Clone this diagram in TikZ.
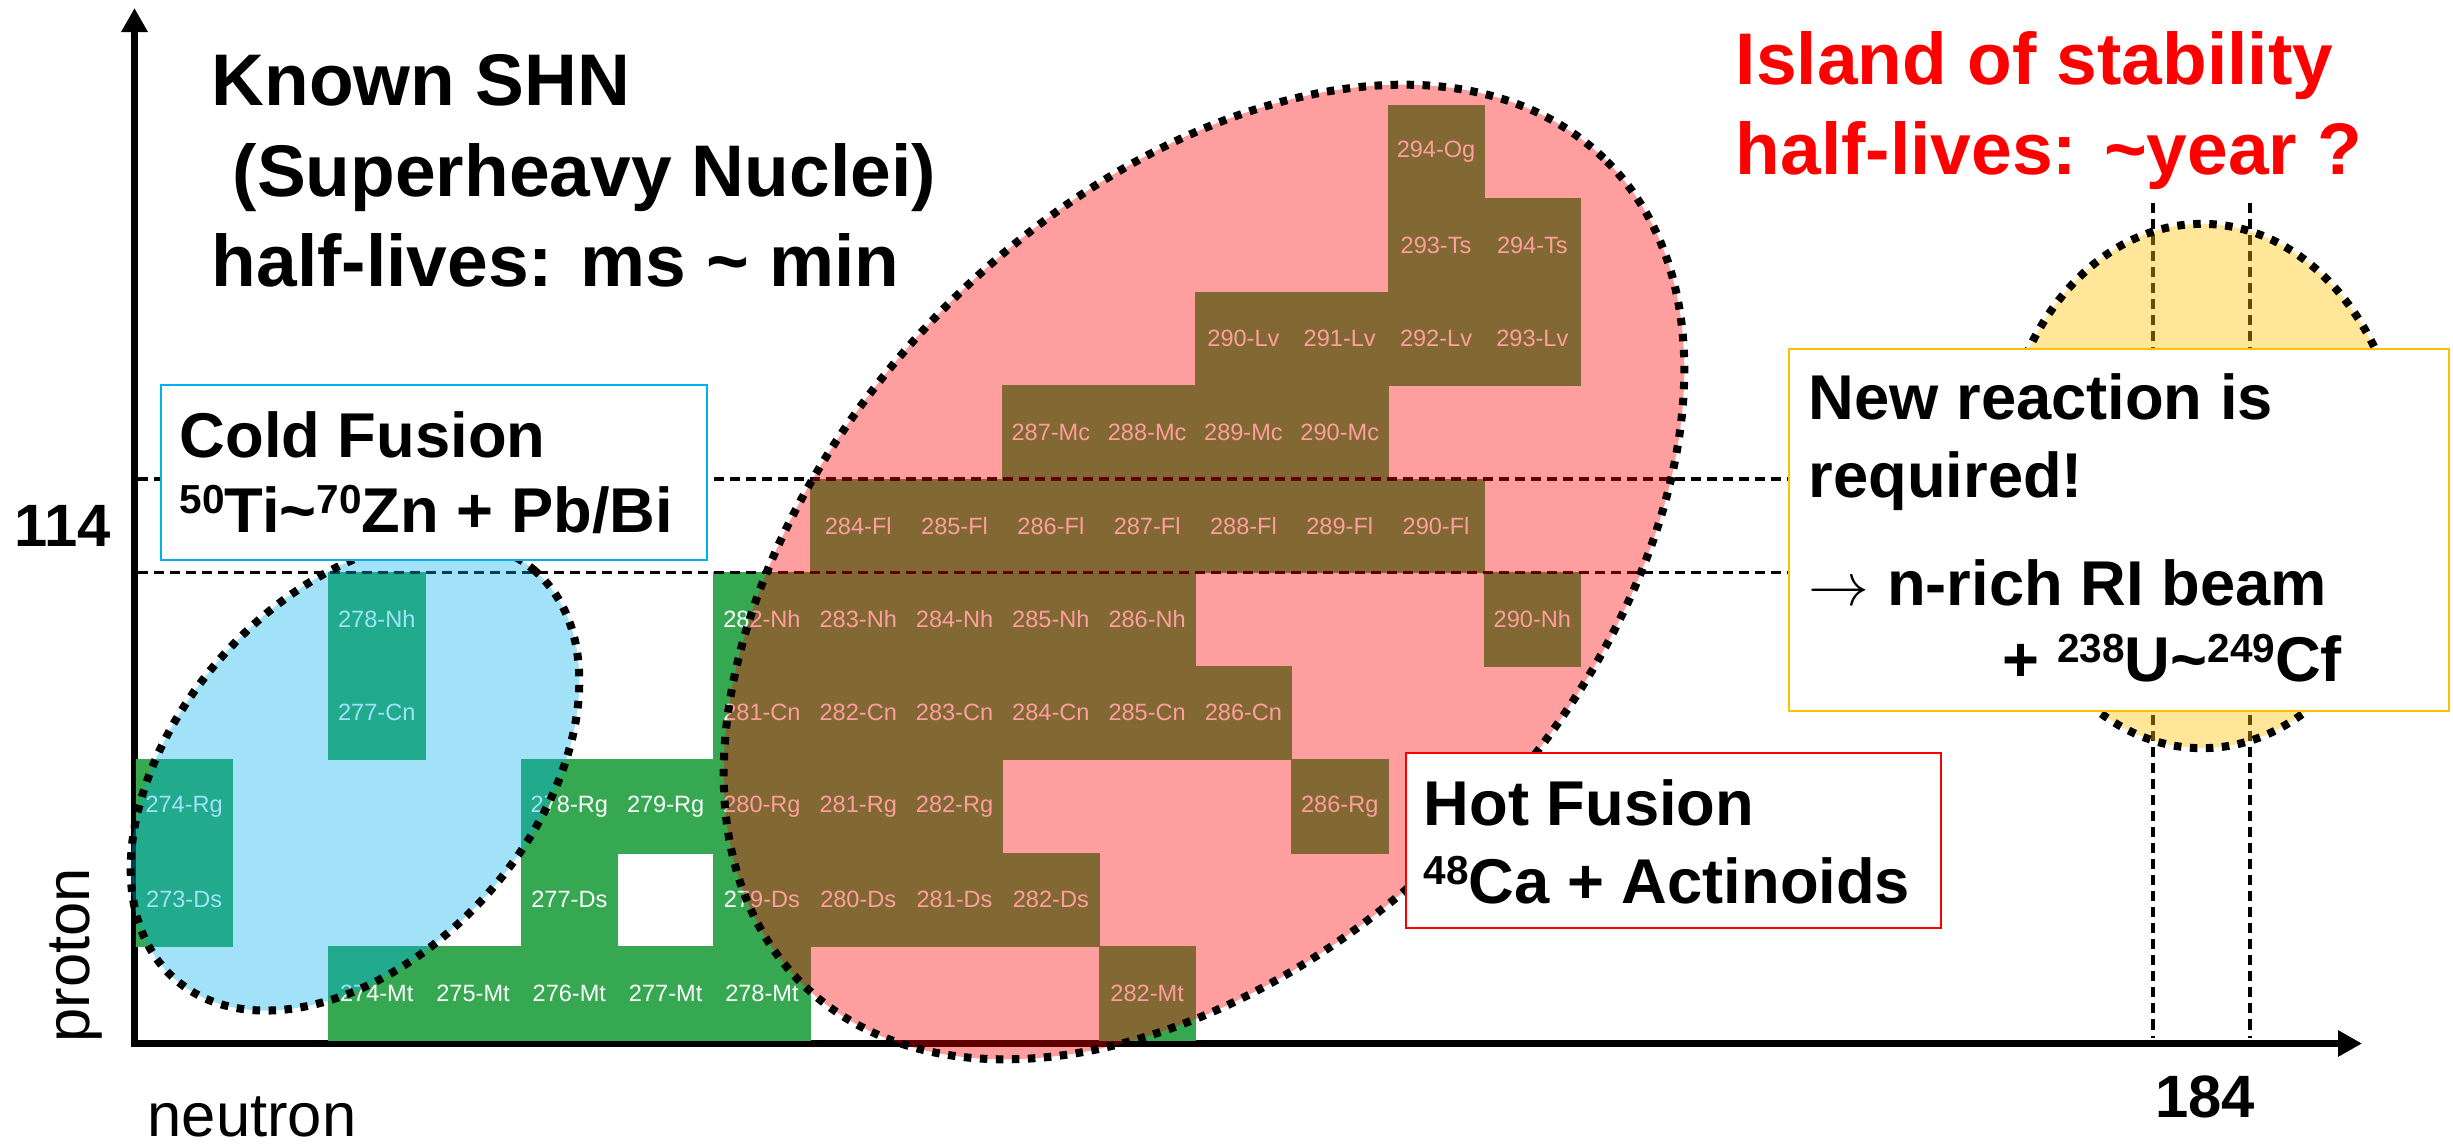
\documentclass[tikz,border=0pt]{standalone}
\usepackage{fontspec}
\setmainfont{Liberation Sans}
\usepackage{graphicx}
\usetikzlibrary{arrows.meta}
\definecolor{cellgreen}{RGB}{54,168,82}
\definecolor{ovblue}{RGB}{0,176,240}
\definecolor{ovyellow}{RGB}{255,192,0}
\newcommand\supnum[1]{\raisebox{0.3em}{\scalebox{0.64}{#1}}}
\begin{document}
\begin{tikzpicture}[x=0.01cm,y=-0.01cm,
  cell/.style={fill=cellgreen, draw=cellgreen, line width=0.006cm, inner sep=0pt,
    minimum width=0.963cm, minimum height=0.935cm, text=white,
    font=\fontsize{6.7}{7}\selectfont},
  axisline/.style={line width=0.07cm, -{Triangle[length=0.24cm,width=0.25cm]}},
  guide/.style={line width=0.035cm, dash pattern=on 0.1cm off 0.06cm},
  dotbound/.style={line width=0.08cm, dash pattern=on 0.075cm off 0.085cm},
  bigtext/.style={font=\bfseries\fontsize{20.8}{25}\selectfont, inner sep=0pt, anchor=base west},
  boxtext/.style={font=\bfseries\fontsize{18}{22}\selectfont, inner sep=0pt, anchor=base west},
  numtext/.style={font=\bfseries\fontsize{17}{20}\selectfont, inner sep=0pt, anchor=base},
  axistext/.style={font=\fontsize{17.5}{20}\selectfont, inner sep=0pt, anchor=base},
  infobox/.style={fill=white, line width=0.025cm, inner sep=0pt}
]
\useasboundingbox (0,0) rectangle (2453,1145);

% axes
\coordinate (ystart) at (134.5,1047);
\coordinate (ytip) at (134.5,8);
\coordinate (xstart) at (131,1043.5);
\coordinate (xtip) at (2362,1043.5);
\draw[axisline] (ystart) -- (ytip);
\draw[axisline] (xstart) -- (xtip);

% nuclide cells
\foreach \c/\r/\t in {
  2/0/274-Mt, 3/0/275-Mt, 4/0/276-Mt, 5/0/277-Mt, 6/0/278-Mt, 10/0/282-Mt,
  0/1/273-Ds, 4/1/277-Ds, 6/1/279-Ds, 7/1/280-Ds, 8/1/281-Ds, 9/1/282-Ds,
  0/2/274-Rg, 4/2/278-Rg, 5/2/279-Rg, 6/2/280-Rg, 7/2/281-Rg, 8/2/282-Rg, 12/2/286-Rg,
  2/3/277-Cn, 6/3/281-Cn, 7/3/282-Cn, 8/3/283-Cn, 9/3/284-Cn, 10/3/285-Cn, 11/3/286-Cn,
  2/4/278-Nh, 6/4/282-Nh, 7/4/283-Nh, 8/4/284-Nh, 9/4/285-Nh, 10/4/286-Nh, 14/4/290-Nh,
  7/5/284-Fl, 8/5/285-Fl, 9/5/286-Fl, 10/5/287-Fl, 11/5/288-Fl, 12/5/289-Fl, 13/5/290-Fl,
  9/6/287-Mc, 10/6/288-Mc, 11/6/289-Mc, 12/6/290-Mc,
  11/7/290-Lv, 12/7/291-Lv, 13/7/292-Lv, 14/7/293-Lv,
  13/8/293-Ts, 14/8/294-Ts,
  13/9/294-Og}
  \node[cell] (cell-\c-\r) at ({136+96.3*(\c+0.5)},{1040-93.5*(\r+0.5)}) {\t};

% guide lines
\coordinate (g1a) at (138,479);
\coordinate (g1b) at (1800,479);
\coordinate (g2a) at (138,572.5);
\coordinate (g2b) at (1800,572.5);
\coordinate (v1a) at (2153,203);
\coordinate (v1b) at (2153,1038);
\coordinate (v2a) at (2250,203);
\coordinate (v2b) at (2250,1038);
\draw[guide] (g1a) -- (g1b);
\draw[guide] (g2a) -- (g2b);
\draw[guide] (v1a) -- (v1b);
\draw[guide] (v2a) -- (v2b);

% translucent regions
\fill[ovblue, fill opacity=0.37, rotate around={48.5:(355,775)}] (355,775) ellipse [x radius=2.72cm, y radius=1.78cm];
\fill[red, fill opacity=0.38, rotate around={46:(1204,572)}] (1204,572) ellipse [x radius=5.75cm, y radius=3.7cm];
\fill[ovyellow, fill opacity=0.4] (2202,486) ellipse [x radius=2.03cm, y radius=2.62cm];
\draw[dotbound, rotate around={48.5:(355,775)}] (355,775) ellipse [x radius=2.72cm, y radius=1.78cm];
\draw[dotbound, rotate around={46:(1204,572)}] (1204,572) ellipse [x radius=5.75cm, y radius=3.7cm];
\draw[dotbound] (2202,486) ellipse [x radius=2.03cm, y radius=2.62cm];

% boxes
\node[infobox, draw=ovblue, minimum width=5.46cm, minimum height=1.75cm] (coldbox) at (434,472.5) {};
\node[infobox, draw=red, minimum width=5.35cm, minimum height=1.75cm] (hotbox) at (1673.5,840.5) {};
\node[infobox, draw=ovyellow, minimum width=6.6cm, minimum height=3.62cm] (newbox) at (2119,530) {};

% titles
\node[bigtext] (known1) at (211,105) {Known SHN};
\node[bigtext] (known2) at (232,196) {(Superheavy Nuclei)};
\node[bigtext] (known3) at (211,286) {half-lives: ms \textasciitilde{} min};
\node[bigtext, text=red] (island1) at (1735,84) {Island of stability};
\node[bigtext, text=red] (island2) at (1735,174) {half-lives: \textasciitilde year ?};

% box texts
\node[boxtext] (cold1) at (179,457) {Cold Fusion};
\node[boxtext] (cold2) at (179,532) {\supnum{50}Ti\textasciitilde\supnum{70}Zn + Pb/Bi};
\node[boxtext] (hot1) at (1423,825) {Hot Fusion};
\node[boxtext] (hot2) at (1423,903) {\supnum{48}Ca + Actinoids};
\node[boxtext] (new1) at (1808,419) {New reaction is};
\node[boxtext] (new2) at (1808,497) {required!};
\node[boxtext] (new3) at (1808,605) {$\rightarrow$ n-rich RI beam};
\node[boxtext] (new4) at (2002,681) {+ \supnum{238}U\textasciitilde\supnum{249}Cf};

% axis labels
\node[numtext] (z114) at (63,546) {114};
\node[numtext] (n184) at (2205,1117) {184};
\node[axistext] (neutron) at (252,1136) {neutron};
\node[axistext, rotate=90] (proton) at (90,955) {proton};
\end{tikzpicture}
\end{document}
